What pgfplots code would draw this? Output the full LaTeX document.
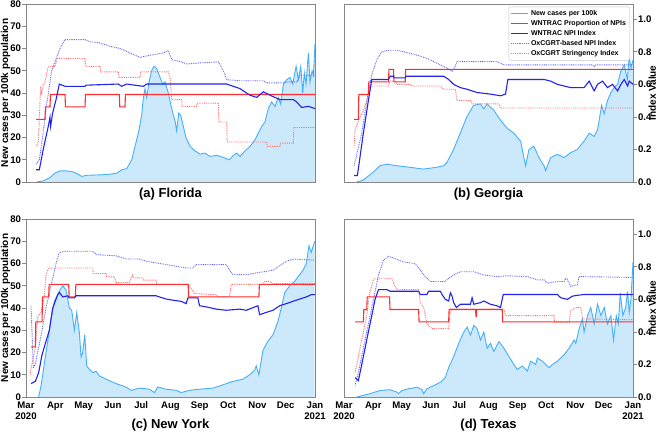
\documentclass[border=0pt]{standalone}
\usepackage{pgfplots}
\pgfplotsset{compat=1.18}
\usepackage{pgfplotstable}
\usepackage{fontspec}
\setmainfont{Liberation Sans}

\definecolor{casesline}{RGB}{70,175,250}
\definecolor{casesfill}{RGB}{204,232,251}
\definecolor{npired}{RGB}{255,45,45}
\definecolor{npiblue}{RGB}{35,35,240}
\definecolor{oxblue}{RGB}{105,105,250}
\definecolor{oxred}{RGB}{255,115,115}
\definecolor{framegray}{RGB}{135,135,135}

\pgfplotsset{
  panel/.style={scale only axis, width=289pt, height=178pt, xmin=0, xmax=306,
    axis line style={-, draw=framegray, line width=0.8pt},
    tick style={draw=framegray, line width=0.8pt},
    tick align=outside, major tick length=4pt,
    ticklabel style={font=\bfseries\fontsize{9.6}{11}\selectfont, text=black},
    yticklabel style={inner xsep=0.8pt},
    xlabel style={font=\bfseries\fontsize{13}{15}\selectfont, anchor=center},
  },
  casesax/.style={panel, ymin=0, ymax=80, axis on top},
  idxax/.style={panel, ymin=0, ymax=1.094},
  leftticks/.style={ytick={0,10,20,30,40,50,60,70,80}, yticklabels={0,10,20,30,40,50,60,70,80}, ytick pos=left,
    ylabel={New cases per 100k population},
    ylabel style={font=\bfseries\fontsize{10}{11}\selectfont, at={(axis description cs:-0.0875,0.5)}, anchor=north, inner sep=0pt}},
  rightticks/.style={axis x line=none, axis y line*=right,
    ytick={0,0.2,0.4,0.6,0.8,1.0}, yticklabels={0.0,0.2,0.4,0.6,0.8,1.0},
    ylabel={Index Value},
    ylabel style={font=\bfseries\fontsize{10}{11}\selectfont, at={(axis description cs:1.0536,0.5)}, anchor=north, inner sep=0pt}},
  monthticks/.style={xtick={0,31,61,92,122,153,184,214,245,275,306},
    xticklabels={{Mar\\2020},Apr,May,Jun,Jul,Aug,Sep,Oct,Nov,Dec,{Jan\\2021}},
    xticklabel style={align=center, yshift=-1.5pt}, xtick pos=bottom},
  cfill/.style={fill=casesfill, draw=none},
  cline/.style={casesline, line width=0.9pt},
  wprop/.style={npired, line width=1.1pt},
  wnpi/.style={npiblue, line width=1.1pt},
  oxnpi/.style={oxblue, line width=0.9pt, dash pattern=on 0.9pt off 0.9pt},
  oxstr/.style={oxred, line width=0.9pt, dash pattern=on 0.9pt off 0.9pt},
}

% ---------------- cases data (new cases per 100k) ----------------
\pgfplotstableread{
d v
11.3 0
18.4 0.5
25.4 2
30.7 4
36 5
43 5
50 4.5
55.4 3.5
59 2.5
64.2 3
78.4 3.2
89 3.5
96 4
101.3 5.5
106.6 6
112 10
115.4 16
119 22
122.5 30
124 37
126 42
127.8 38
130.3 45
133 50
135.5 52
138.4 51
141 48
144.7 44
147.2 45
150.7 40
153.2 35
156 30
158 27
159.5 23
161.7 31
163.8 30
166.6 25
169.4 20
173.7 16
179 14
184.3 12.5
189.6 13
194.8 11.5
202 12
209 11
215.3 10
219.6 12
223 13
226.6 11.5
232 14
237.2 16
242.5 19
246 22
249.6 25
253 27
256.6 33
260 36
263.7 34
267.2 38
269.7 35
272.5 44
276 46
279.6 47
282.4 44
286 52
288.4 46
290.9 52
293 40
294.7 49
296.5 44
299 58
300.7 45
302.9 50
304.3 48
306 62
}\casesA

\pgfplotstableread{
d v
13.5 0
20 0.8
31 4.4
38 7.3
45 8.0
56 7.3
70 6.6
84 5.8
98 6.6
105.5 7.3
109 8.8
116 14.6
123 21.9
130 29.2
137 34.4
144.5 35.1
148 32.9
151.5 35.1
158.6 32.2
165.7 27.8
172.8 24.1
180 21.9
187 18.3
190.5 11.0
192.3 7.3
195.8 14.6
201 16.1
206.4 11.0
211.8 7.3
213.5 5.1
218.8 11.0
226 12.4
233 11.0
240 13.2
247 14.6
254 18.3
259.6 21.9
264.9 20.5
268.4 23.4
272.8 34.4
275.5 30.7
279 36.6
282.6 40.2
286 42.4
289.7 43.9
293 49.7
296.7 52.6
300 46.1
302 56.3
303.8 51.2
306 54.8
}\casesB

\pgfplotstableread{
d v
13.4 0
15.9 5
19.4 15
23 25
26.5 35
30 43
34.6 47
38.9 50
42.4 48
46 40
48.4 39
51.2 30
53.7 38
56.5 29
58.3 18
60 20
62.2 28
64.3 14
67 12.5
70.7 11
74.2 11.5
77.7 9.5
84.8 8
95.4 6
102.5 5
107.8 4
111.3 3
120 4
130.7 3.5
136 2
139.6 4.5
148.4 3.5
159 3
164.3 2
173 3
183.7 3.5
197.9 4
205 5
212 6
219 7
229.7 8
236.7 10
242 12
243.8 14
246.6 10
250.9 21
256 25
261.5 28
266.8 34
270.3 40
273.9 47
279.2 50
284.5 52
289.8 55
293.3 57
296.8 60
299.6 68
302 65
305.7 70
}\casesC

\pgfplotstableread{
d v
13.5 0
27.6 1.5
38 2.9
48.6 3.3
56 2.2
57.8 1.5
61.3 2.9
68.3 3.7
77.2 4.4
82.5 3.3
84.3 1.5
87.8 3.7
94.9 5.1
102 6.6
107.3 8.8
110.8 13.2
116.2 18.3
121.5 24.1
126.8 29.2
130.4 31.4
133.9 27.8
137.4 32.2
141 30.7
144.5 25.6
148 29.2
151.6 21.9
155.1 24.1
158.6 20.5
164 24.9
169.3 21.9
174.6 18.3
179.9 14.6
183.4 12.4
188.8 13.9
194.1 11.7
197.6 16.1
202.9 14.6
204.7 17.5
210 16.1
213.5 14.6
217.1 13.2
220.6 14.6
225.9 16.1
233 19.0
238.3 21.9
243.6 25.6
245.4 24.1
249 30.7
252.5 35.1
254.2 29.2
257.8 36.6
261.3 40.2
264.9 32.9
268.4 41.7
272 36.6
275.5 40.2
279 32.9
282.6 36.6
285.4 25.6
288.3 36.6
290.4 32.9
292.5 46.8
295.3 36.6
298.2 40.2
300.3 47.5
302 38.0
303.8 43.9
306 60.7
}\casesD

\begin{document}
\begin{tikzpicture}
\path[use as bounding box] (0,0) rectangle (660pt,433pt);

% ======================= (a) Florida =======================
\begin{axis}[casesax, at={(26pt,251pt)}, anchor=south west, leftticks, xtick=\empty,
  xlabel={(a) Florida}, xlabel style={at={(axis description cs:0.5,-0.067)}}]
\addplot[cfill] table {\casesA} \closedcycle;
\addplot[cline] table {\casesA};
\end{axis}
\begin{axis}[idxax, at={(26pt,251pt)}, anchor=south west, hide axis]
\addplot[oxstr] coordinates {(10.6,0.219)(13.1,0.246)(15.5,0.588)(16.6,0.547)(18.4,0.602)(20.1,0.615)(23.6,0.711)(30.7,0.711)(33.2,0.759)(62.5,0.759)(63,0.711)(78.4,0.711)(78.9,0.677)(97.8,0.677)(98.3,0.643)(120.7,0.643)(121.2,0.677)(150.7,0.677)(152.5,0.643)(154.3,0.506)(164.8,0.506)(165.3,0.465)(180.7,0.465)(181.2,0.485)(203.7,0.485)(204.2,0.369)(212.5,0.369)(213,0.246)(254.9,0.246)(255.4,0.219)(269,0.219)(269.5,0.239)(283.1,0.239)(283.6,0.335)(306,0.335)};
\addplot[oxnpi] coordinates {(10.6,0.109)(14.1,0.137)(17.6,0.274)(21.9,0.479)(27.2,0.684)(36,0.821)(41.3,0.875)(62.5,0.875)(67.8,0.862)(78.4,0.855)(89,0.834)(99.5,0.821)(110,0.793)(120.7,0.766)(131.3,0.779)(145.4,0.793)(150.7,0.807)(154.3,0.752)(164.8,0.738)(170.1,0.725)(184.3,0.732)(203.7,0.738)(209,0.684)(212.5,0.629)(226.6,0.622)(251.3,0.622)(254.9,0.609)(272.5,0.609)(276,0.615)(286.6,0.615)(290.2,0.656)(306,0.656)};
\addplot[wprop] coordinates {(10.6,0.385)(20.1,0.385)(20.6,0.462)(25.4,0.462)(25.9,0.538)(41.3,0.538)(41.8,0.462)(62.5,0.462)(63,0.538)(98.8,0.538)(99.3,0.462)(104.8,0.462)(105.3,0.538)(306,0.538)};
\addplot[wnpi] coordinates {(10.6,0.075)(14.1,0.075)(18.4,0.205)(23.6,0.342)(25.4,0.397)(26.1,0.342)(28.2,0.424)(31.8,0.506)(35.3,0.602)(41.3,0.588)(62.5,0.588)(63.5,0.595)(97.8,0.602)(101.3,0.588)(106.6,0.602)(124.2,0.588)(127.8,0.602)(212.5,0.602)(226.6,0.574)(237.2,0.533)(244.3,0.52)(251.3,0.554)(258.4,0.533)(269,0.506)(283,0.506)(286.6,0.492)(291.9,0.458)(299,0.465)(302.5,0.458)(306,0.451)};
\end{axis}

% ======================= (b) Georgia =======================
\begin{axis}[casesax, at={(344pt,251pt)}, anchor=south west, ytick=\empty, xtick=\empty,
  xlabel={(b) Georgia}, xlabel style={at={(axis description cs:0.5,-0.067)}}]
\addplot[cfill] table {\casesB} \closedcycle;
\addplot[cline] table {\casesB};
\end{axis}
\begin{axis}[idxax, at={(344pt,251pt)}, anchor=south west, rightticks,
  legend style={at={(axis description cs:0.99,0.985)}, anchor=north east,
    font=\bfseries\fontsize{7}{8}\selectfont, draw=gray!45, rounded corners=2pt,
    fill=white, fill opacity=0.85, text opacity=1, row sep=-0.6pt,
    inner xsep=2pt, inner ysep=1.5pt},
  legend cell align=left]
\addlegendimage{cline}\addlegendentry{New cases per 100k}
\addlegendimage{wprop}\addlegendentry{WNTRAC Proportion of NPIs}
\addlegendimage{wnpi}\addlegendentry{WNTRAC NPI Index}
\addlegendimage{oxnpi}\addlegendentry{OxCGRT-based NPI Index}
\addlegendimage{oxstr}\addlegendentry{OxCGRT Stringency Index}
\addplot[oxstr, forget plot] coordinates {(10.6,0.22)(11.7,0.32)(17,0.4)(20.5,0.44)(24.1,0.5)(27.6,0.59)(47.1,0.59)(48.9,0.62)(54.2,0.62)(56,0.6)(70.1,0.6)(71.9,0.59)(102,0.59)(105.5,0.57)(117.9,0.57)(119.7,0.5)(133.9,0.5)(135.6,0.48)(164,0.48)(165.7,0.455)(306,0.455)};
\addplot[oxnpi, forget plot] coordinates {(10.6,0.1)(13.5,0.17)(18.8,0.3)(24.1,0.5)(29.4,0.66)(34.7,0.75)(40,0.8)(47.1,0.81)(56,0.81)(63,0.8)(77.2,0.78)(87.8,0.76)(98.4,0.73)(109,0.7)(114.4,0.68)(116.9,0.7)(119.7,0.74)(162.2,0.74)(165.7,0.73)(169.3,0.72)(263.1,0.72)(264.9,0.71)(266.6,0.72)(306,0.72)};
\addplot[wprop, forget plot] coordinates {(10.6,0.385)(15.2,0.385)(15.7,0.538)(25.8,0.538)(26.3,0.615)(47.1,0.615)(47.6,0.692)(52.4,0.692)(52.9,0.615)(64.8,0.615)(65.3,0.692)(306,0.692)};
\addplot[wnpi, forget plot] coordinates {(10.6,0.04)(14.2,0.04)(20.5,0.3)(25.8,0.5)(29.4,0.63)(47.1,0.63)(48.9,0.65)(52.4,0.65)(53.1,0.64)(64.8,0.64)(65.5,0.65)(105.5,0.65)(110.8,0.63)(116.1,0.6)(123.2,0.58)(130.3,0.57)(140.9,0.55)(155.1,0.54)(165.7,0.53)(171,0.54)(173.5,0.63)(211.8,0.63)(218.8,0.62)(225.9,0.6)(240.1,0.58)(254.2,0.58)(259.6,0.62)(263.1,0.58)(264.9,0.56)(268.4,0.6)(273.7,0.62)(279,0.58)(284.3,0.6)(289.7,0.56)(293.2,0.6)(296.7,0.63)(300.3,0.59)(302,0.62)(306,0.6)};
\end{axis}

% ======================= (c) New York =======================
\begin{axis}[casesax, at={(26pt,36pt)}, anchor=south west, leftticks, xtick=\empty,
  xlabel={(c) New York}, xlabel style={at={(axis description cs:0.5,-0.157)}}]
\addplot[cfill] table {\casesC} \closedcycle;
\addplot[cline] table {\casesC};
\end{axis}
\begin{axis}[idxax, at={(26pt,36pt)}, anchor=south west, axis y line=none, axis x line*=bottom,
  monthticks, major tick length=0pt]
\addplot[oxstr] coordinates {(4.2,0.137)(7.8,0.246)(9.9,0.301)(12.4,0.492)(15.9,0.52)(17.7,0.574)(19.4,0.615)(21.2,0.752)(24,0.793)(70.7,0.793)(71.2,0.759)(84.8,0.759)(85.3,0.738)(93.6,0.738)(95.4,0.704)(109.5,0.704)(111.3,0.732)(113,0.752)(113.8,0.732)(123.7,0.732)(124.4,0.718)(137.8,0.718)(138.5,0.692)(171.7,0.692)(178.4,0.636)(201.4,0.629)(203.2,0.615)(215.5,0.615)(217.3,0.692)(250.9,0.692)(252.7,0.711)(258,0.711)(261.5,0.697)(306,0.697)};
\addplot[oxnpi] coordinates {(5.3,0.561)(7.8,0.178)(9.9,0.205)(12.4,0.274)(17,0.41)(21.2,0.547)(26.5,0.684)(31.8,0.821)(35.3,0.889)(42.4,0.896)(70.7,0.896)(74.2,0.875)(95.4,0.868)(106,0.848)(120.1,0.848)(127.2,0.834)(141.3,0.821)(155.5,0.807)(169.6,0.793)(176.7,0.793)(180.2,0.814)(212,0.814)(215.5,0.779)(219.1,0.752)(233.2,0.752)(247.3,0.766)(261.5,0.779)(268.6,0.807)(275.6,0.834)(282.7,0.848)(306,0.841)};
\addplot[wprop] coordinates {(5.3,0.308)(9.9,0.308)(10.4,0.462)(17,0.462)(17.5,0.615)(24,0.615)(24.5,0.692)(45.2,0.692)(45.7,0.615)(52.3,0.615)(52.8,0.692)(171.7,0.692)(172.2,0.615)(246.6,0.615)(247.1,0.692)(306,0.692)};
\addplot[wnpi] coordinates {(5.3,0.082)(9.9,0.096)(13.4,0.15)(17,0.26)(21.2,0.342)(24.7,0.41)(28.3,0.547)(33.6,0.629)(35.3,0.643)(38.9,0.615)(44.2,0.622)(45.9,0.609)(51.2,0.609)(53,0.622)(137.8,0.622)(141.3,0.615)(148.4,0.602)(155.5,0.595)(164.3,0.588)(169.6,0.574)(171.4,0.609)(182,0.609)(183.7,0.561)(190.8,0.554)(201.4,0.54)(212,0.533)(226.1,0.54)(233.2,0.533)(245.6,0.561)(247.3,0.506)(254.4,0.52)(261.5,0.533)(268.6,0.561)(275.6,0.574)(282.7,0.588)(289.8,0.602)(296.8,0.615)(302.1,0.629)(306,0.629)};
\end{axis}

% ======================= (d) Texas =======================
\begin{axis}[casesax, at={(344pt,36pt)}, anchor=south west, ytick=\empty, monthticks, major tick length=0pt,
  xlabel={(d) Texas}, xlabel style={at={(axis description cs:0.5,-0.157)}}]
\addplot[cfill] table {\casesD} \closedcycle;
\addplot[cline] table {\casesD};
\end{axis}
\begin{axis}[idxax, at={(344pt,36pt)}, anchor=south west, rightticks]
\addplot[oxstr] coordinates {(11.7,0.15)(17,0.3)(20.5,0.4)(24.1,0.5)(27.6,0.65)(31.2,0.72)(32.9,0.73)(50.6,0.73)(52.4,0.7)(56,0.66)(79,0.66)(80.7,0.58)(84.3,0.55)(87.8,0.45)(91.4,0.43)(93.1,0.42)(110.8,0.42)(112.6,0.54)(169.3,0.54)(171,0.5)(222.4,0.5)(223.1,0.46)(238.3,0.46)(240.1,0.53)(245.4,0.55)(250.7,0.55)(252.5,0.48)(306,0.475)};
\addplot[oxnpi] coordinates {(11.7,0.07)(15.2,0.15)(20.5,0.3)(25.8,0.45)(31.2,0.6)(36.5,0.75)(41.8,0.84)(47.1,0.865)(54.2,0.85)(63,0.83)(75.4,0.82)(80.7,0.78)(86,0.74)(91.4,0.71)(107.3,0.71)(110.8,0.73)(116.1,0.75)(123.2,0.77)(137.4,0.77)(148,0.75)(162.2,0.74)(172.8,0.745)(194,0.74)(204.7,0.72)(211.8,0.72)(215.3,0.7)(225.9,0.71)(233,0.71)(234.8,0.73)(236.5,0.72)(240.1,0.68)(247.2,0.69)(248.9,0.74)(306,0.735)};
\addplot[wprop] coordinates {(11.7,0.462)(20.5,0.462)(21,0.538)(24.1,0.538)(24.6,0.615)(48.2,0.615)(48.7,0.538)(79,0.538)(79.5,0.462)(110.8,0.462)(111.3,0.538)(139.2,0.538)(139.9,0.49)(140.6,0.538)(167.5,0.538)(168,0.462)(306,0.462)};
\addplot[wnpi] coordinates {(11.7,0.12)(15.2,0.1)(18.8,0.2)(22.3,0.3)(25.8,0.4)(29.4,0.5)(32.9,0.6)(36.5,0.66)(45.3,0.66)(48.9,0.65)(79,0.65)(80.7,0.63)(87.8,0.63)(89.6,0.65)(102,0.65)(103.8,0.63)(107.3,0.6)(110.8,0.59)(112.6,0.64)(114.4,0.62)(116.1,0.58)(119,0.55)(123.2,0.57)(133.9,0.57)(135.6,0.61)(137.4,0.57)(144.5,0.58)(148,0.59)(155.1,0.57)(162.2,0.56)(165.7,0.55)(168.6,0.63)(225.9,0.63)(229.5,0.61)(236.5,0.6)(241.9,0.62)(247.2,0.625)(254.2,0.63)(306,0.63)};
\end{axis}
\end{tikzpicture}
\end{document}
